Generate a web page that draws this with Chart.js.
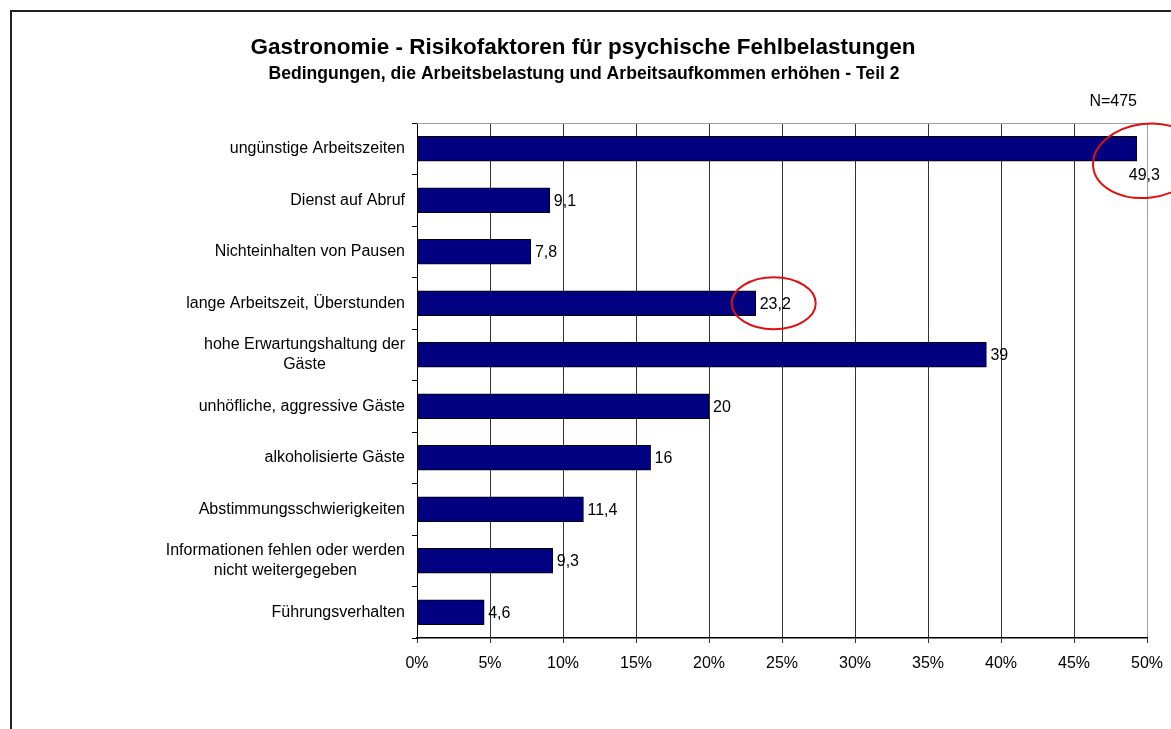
<!DOCTYPE html>
<html lang="de">
<head>
<meta charset="utf-8">
<title>Gastronomie - Risikofaktoren</title>
<script src="https://cdn.jsdelivr.net/npm/chart.js@4.4.1/dist/chart.umd.min.js"></script>
<style>
    html, body { margin: 0; padding: 0; background: #fff; }
    .frame {
        position: absolute;
        left: 10px;
        top: 10px;
        width: 1161px;
        height: 719px;
        border-top: 2px solid #222;
        border-left: 2px solid #222;
        box-sizing: border-box;
        pointer-events: none;
    }
    .chart-wrap { position: absolute; left: 0; top: 0; width: 1171px; height: 729px; }
</style>
</head>
<body>
<div class="chart-wrap"><canvas id="riskChart" width="1171" height="729"></canvas></div>
<div class="frame"></div>
<script>
// Chart data
const categories = [
    ['ungünstige Arbeitszeiten'],
    ['Dienst auf Abruf'],
    ['Nichteinhalten von Pausen'],
    ['lange Arbeitszeit, Überstunden'],
    ['hohe Erwartungshaltung der', 'Gäste'],
    ['unhöfliche, aggressive Gäste'],
    ['alkoholisierte Gäste'],
    ['Abstimmungsschwierigkeiten'],
    ['Informationen fehlen oder werden', 'nicht weitergegeben'],
    ['Führungsverhalten']
];
const percentValues = [49.3, 9.1, 7.8, 23.2, 39, 20, 16, 11.4, 9.3, 4.6];
const xTicks = [0, 5, 10, 15, 20, 25, 30, 35, 40, 45, 50];

const titleText = 'Gastronomie - Risikofaktoren für psychische Fehlbelastungen';
const subtitleText = 'Bedingungen, die Arbeitsbelastung und Arbeitsaufkommen erhöhen - Teil 2';
const sampleText = 'N=475';

// Bars that are marked with a red ellipse in the original
const highlighted = [0, 3];

const FONT = '"Liberation Sans", Arial, sans-serif';

/**
 * Titles, category labels, value labels and red markings
 */
const decorPlugin = {
    id: 'decor',
    beforeDatasetsDraw(chart) {
        const { ctx, chartArea } = chart;
        // grey top border of plot area
        ctx.save();
        ctx.strokeStyle = '#a0a0a0';
        ctx.lineWidth = 1;
        ctx.beginPath();
        ctx.moveTo(chartArea.left, chartArea.top + 0.5);
        ctx.lineTo(chartArea.right, chartArea.top + 0.5);
        ctx.stroke();
        ctx.restore();
    },
    afterDatasetsDraw(chart) {
        const { ctx, chartArea } = chart;
        const yScale = chart.scales.y;
        const bars = chart.getDatasetMeta(0).data;

        ctx.save();
        ctx.fillStyle = '#000';

        // titles
        ctx.textAlign = 'center';
        ctx.textBaseline = 'middle';
        ctx.font = 'bold 22.5px ' + FONT;
        ctx.fillText(titleText, 583, 48);
        ctx.font = 'bold 17.6px ' + FONT;
        ctx.fillText(subtitleText, 584, 74);

        ctx.font = '16px ' + FONT;
        ctx.textAlign = 'right';
        ctx.fillText(sampleText, chartArea.right - 10, 102);

        // category labels (right aligned block, lines centred)
        categories.forEach((lines, i) => {
            const y = yScale.getPixelForValue(i);
            const maxW = Math.max(...lines.map(l => ctx.measureText(l).width));
            const cx = chartArea.left - 12 - maxW / 2;
            const lh = 20;
            ctx.textAlign = 'center';
            lines.forEach((l, j) => {
                ctx.fillText(l, cx, y + (j - (lines.length - 1) / 2) * lh);
            });
        });

        // value labels
        ctx.textAlign = 'left';
        bars.forEach((bar, i) => {
            const txt = String(percentValues[i]).replace('.', ',');
            if (bar.x + 40 > chartArea.right) {
                // no room right of the bar: put it underneath
                ctx.fillText(txt, bar.x - 8, bar.y + 27);
            } else {
                ctx.fillText(txt, bar.x + 4, bar.y + 1);
            }
        });

        // red ellipses
        ctx.strokeStyle = '#e01010';
        ctx.lineWidth = 2;
        highlighted.forEach(i => {
            const bar = bars[i];
            ctx.beginPath();
            if (bar.x + 40 > chartArea.right) {
                ctx.ellipse(bar.x + 10, bar.y + 12, 54, 37, -0.12, 0, Math.PI * 2);
            } else {
                ctx.ellipse(bar.x + 18, bar.y, 42, 26, 0, 0, Math.PI * 2);
            }
            ctx.stroke();
        });

        ctx.restore();
    }
};

const ctx = document.getElementById('riskChart');

new Chart(ctx, {
    type: 'bar',
    data: {
        labels: categories,
        datasets: [{
            data: percentValues,
            backgroundColor: '#000080',
            borderColor: '#000',
            borderWidth: 1,
            borderSkipped: false,
            barThickness: 25
        }]
    },
    options: {
        indexAxis: 'y',
        responsive: false,
        animation: false,
        events: [],
        layout: {
            padding: { left: 0, top: 123, right: 24, bottom: 51 }
        },
        plugins: {
            legend: { display: false },
            tooltip: { enabled: false }
        },
        scales: {
            x: {
                min: 0,
                max: 50,
                afterBuildTicks(scale) {
                    scale.ticks = xTicks.map(v => ({ value: v }));
                },
                afterFit(scale) {
                    scale.height = 40;
                    scale.paddingLeft = 0;
                    scale.paddingRight = 0;
                },
                grid: {
                    color(c) {
                        if (c.tick && c.tick.value === 50) return '#a0a0a0';
                        return '#333';
                    },
                    tickColor: '#333',
                    tickLength: 5,
                    lineWidth: 1
                },
                border: { color: '#000', width: 1.5 },
                ticks: {
                    color: '#000',
                    padding: 11,
                    font: { family: FONT, size: 16 },
                    callback: v => v + '%'
                }
            },
            y: {
                afterFit(scale) {
                    scale.width = 417;
                },
                grid: {
                    drawOnChartArea: false,
                    drawTicks: true,
                    tickLength: 5,
                    color: '#000',
                    offset: true
                },
                border: { color: '#000', width: 1 },
                ticks: { display: false }
            }
        }
    },
    plugins: [decorPlugin]
});
</script>
</body>
</html>
